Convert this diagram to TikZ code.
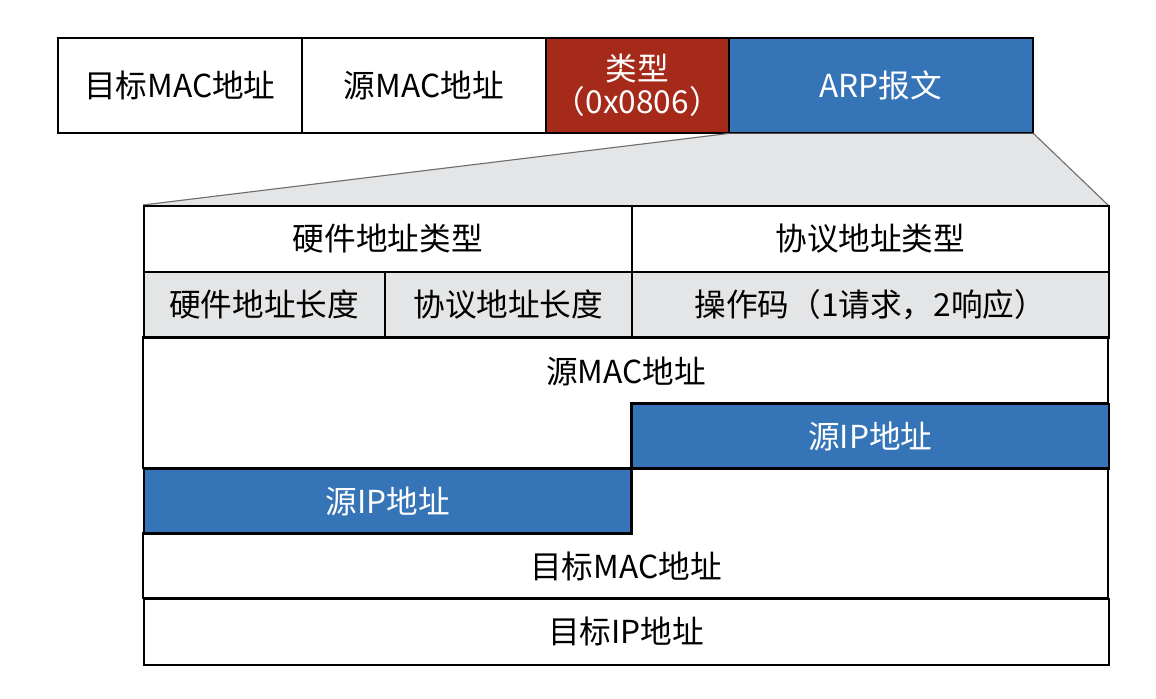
\documentclass[tikz,border=0pt]{standalone}
\usepackage{fontspec}
\setmainfont{Noto Sans CJK SC}
\usetikzlibrary{positioning}
\definecolor{RojoTipo}{HTML}{A52A1A}
\definecolor{AzulArp}{HTML}{3574B7}
\definecolor{GrisFondo}{HTML}{E4E5E7}
\definecolor{GrisBorde}{HTML}{6E6E6E}

\begin{document}
\begin{tikzpicture}[
  x=0.025cm,y=-0.025cm,
  font=\fontsize{22.5}{26}\selectfont,
  caja/.style 2 args={draw=black,line width=1.1pt,inner sep=0pt,anchor=north west,align=center,
    minimum width=#1*0.025cm,minimum height=#2*0.025cm},
  borde/.style={draw=black,line width=1.1pt},
  resalte/.style={fill=AzulArp,text=white}
]
  \useasboundingbox (0,0) rectangle (1156,698);

  % Trama Ethernet arriba.
  \node[caja={244}{95}] (dmac) at (57,37) {目标MAC地址};
  \node[caja={244}{95}] (smac) at (301,37) {源MAC地址};
  \node[caja={183}{95},fill=RojoTipo,text=white] (tipo) at (545,37) {类型\\[-0.1em]（0x0806）};
  \node[caja={304}{95},resalte] (arp) at (728,37) {ARP报文};

  % Zona gris que abre el campo ARP.
  \coordinate (tabNW) at (143,205);
  \coordinate (tabNE) at (1108,205);
  \fill[GrisFondo] (arp.south west) -- (arp.south east) -- (tabNE) -- (tabNW) -- cycle;
  \draw[GrisBorde,line width=0.8pt] (arp.south west) -- (tabNW);
  \draw[GrisBorde,line width=0.8pt] (arp.south east) -- (tabNE);

  % Cabecera ARP.
  \node[caja={488}{66},fill=white] (hwtipo) at (tabNW) {硬件地址类型};
  \node[caja={477}{66},fill=white] (prtipo) at (631,205) {协议地址类型};
  \node[caja={241}{66},fill=GrisFondo] (hwlong) at (143,271) {硬件地址长度};
  \node[caja={247}{66},fill=GrisFondo] (prlong) at (384,271) {协议地址长度};
  \node[caja={477}{66},fill=GrisFondo] (opcode) at (631,271) {操作码（1请求，2响应）};

  % Direcciones, con los campos partidos en medias filas.
  \draw[borde] (143,337) -- (1108,337) -- (1108,403) -- (631,403) -- (631,468) -- (143,468) -- cycle;
  \node (srcmac) at (626,371) {源MAC地址};
  \node[caja={477}{65},resalte] (srcipa) at (631,403) {源IP地址};
  \node[caja={488}{65},resalte] (srcipb) at (143,468) {源IP地址};
  \draw[borde] (631,468) -- (1108,468) -- (1108,598) -- (143,598) -- (143,533) -- (631,533) -- cycle;
  \node (dstmac) at (626,566) {目标MAC地址};
  \node[caja={965}{66}] (dstip) at (143,598) {目标IP地址};
\end{tikzpicture}
\end{document}
